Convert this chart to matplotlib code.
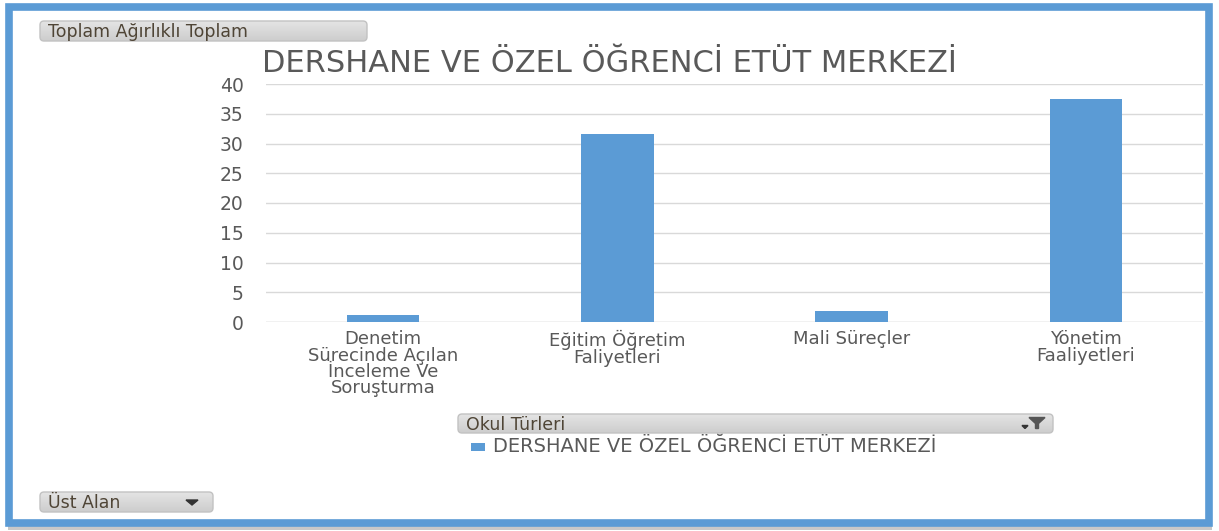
import matplotlib
matplotlib.use("Agg")
import matplotlib.pyplot as plt
import numpy as np
from matplotlib.patches import Rectangle, FancyBboxPatch, Polygon
from matplotlib.colors import LinearSegmentedColormap

# Veriler
categories = ["Denetim\nSürecinde Açılan\nİnceleme Ve\nSoruşturma",
              "Eğitim Öğretim\nFaliyetleri",
              "Mali Süreçler",
              "Yönetim\nFaaliyetleri"]
values = [1.2, 31.6, 1.85, 37.5]
series_name = "DERSHANE VE ÖZEL ÖĞRENCİ ETÜT MERKEZİ"
yticks = [0, 5, 10, 15, 20, 25, 30, 35, 40]

W, H = 1219, 531
BLUE = "#5B9BD5"
GRAY = "#595959"
BTN_TXT = "#4F4536"


def fx(x):
    return x / W


def fy(y):
    return 1 - y / H


fig = plt.figure(figsize=(W / 100, H / 100), dpi=100)
fig.patch.set_facecolor("white")

# cadre bleu + ombre
fig.patches.append(Rectangle((fx(8), fy(530)), fx(1212) - fx(8), fy(526) - fy(530),
                             transform=fig.transFigure, facecolor="#C8C8C8", edgecolor="none"))
fig.patches.append(Rectangle((fx(8.5), fy(522.5)), fx(1208.5) - fx(8.5), fy(6.5) - fy(522.5),
                             transform=fig.transFigure, facecolor="none", edgecolor=BLUE,
                             linewidth=5.5))

ax = fig.add_axes([fx(266), fy(322), fx(1203) - fx(266), fy(84) - fy(322)])
x = list(range(len(categories)))
ax.bar(x, values, width=0.31, color=BLUE, zorder=3)
ax.set_xlim(-0.5, len(categories) - 0.5)
ax.set_ylim(0, 40)
ax.set_yticks(yticks)
ax.set_yticklabels([str(t) for t in yticks], fontsize=13.5, color=GRAY)
ax.set_xticks(x)
ax.set_xticklabels(categories, fontsize=13, color=GRAY, linespacing=0.88)
ax.tick_params(length=0, pad=16)
ax.tick_params(axis="x", pad=6)
ax.grid(axis="y", color="#D9D9D9", linewidth=1, zorder=0)
ax.axhline(0, color="#D9D9D9", linewidth=1, zorder=1)
for s in ax.spines.values():
    s.set_visible(False)

fig.text(fx(609), fy(64), series_name, ha="center", va="center",
         fontsize=22, color=GRAY)

grad_cmap = LinearSegmentedColormap.from_list("btn", ["#CDCDCD", "#E4E4E4"])


def button(x0, y0, x1, y1, label, icon=None):
    rect = [fx(x0), fy(y1), fx(x1) - fx(x0), fy(y0) - fy(y1)]
    style = "round,pad=0,rounding_size=%f" % (4 / W)
    bax = fig.add_axes(rect)
    bax.axis("off")
    im = bax.imshow(np.linspace(0, 1, 32).reshape(-1, 1), aspect="auto", cmap=grad_cmap,
                    extent=[0, 1, 0, 1], origin="lower")
    clip = FancyBboxPatch((rect[0], rect[1]), rect[2], rect[3], boxstyle=style,
                          mutation_aspect=W / H, transform=fig.transFigure)
    im.set_clip_path(clip)
    fig.patches.append(FancyBboxPatch((rect[0], rect[1]), rect[2], rect[3], boxstyle=style,
                                      mutation_aspect=W / H, transform=fig.transFigure,
                                      facecolor="none", edgecolor="#C2C2C2", linewidth=1,
                                      zorder=5))
    fig.text(fx(x0 + 8), fy((y0 + y1) / 2 + 1), label, ha="left", va="center",
             fontsize=12.5, color=BTN_TXT, zorder=6)
    if icon == "down":
        cx, cy = x1 - 21, (y0 + y1) / 2
        fig.patches.append(Polygon([(fx(cx - 6), fy(cy - 2)), (fx(cx + 6), fy(cy - 2)),
                                    (fx(cx), fy(cy + 3))], closed=True,
                                   transform=fig.transFigure, color="#333333", zorder=6))
    elif icon == "filter":
        cx, cy = x1 - 16, (y0 + y1) / 2
        fig.patches.append(Polygon([(fx(cx - 8), fy(cy - 6)), (fx(cx + 8), fy(cy - 6)),
                                    (fx(cx + 1.5), fy(cy)), (fx(cx + 1.5), fy(cy + 5)),
                                    (fx(cx - 1.5), fy(cy + 5)), (fx(cx - 1.5), fy(cy))],
                                   closed=True, transform=fig.transFigure, color="#555555",
                                   zorder=6))
        fig.patches.append(Polygon([(fx(cx - 15), fy(cy + 2)), (fx(cx - 9), fy(cy + 2)),
                                    (fx(cx - 12), fy(cy + 5))], closed=True,
                                   transform=fig.transFigure, color="#333333", zorder=6))


button(40, 21, 367, 41, "Toplam Ağırlıklı Toplam")
button(458, 414, 1053, 433, "Okul Türleri", icon="filter")
button(40, 492, 213, 512, "Üst Alan", icon="down")

# légende
fig.patches.append(Rectangle((fx(471), fy(451)), fx(485) - fx(471), fy(443) - fy(451),
                             transform=fig.transFigure, facecolor=BLUE, edgecolor="none"))
fig.text(fx(493), fy(447), series_name, ha="left", va="center", fontsize=14, color=GRAY)

plt.savefig("out.png", dpi=100)
plt.close()
